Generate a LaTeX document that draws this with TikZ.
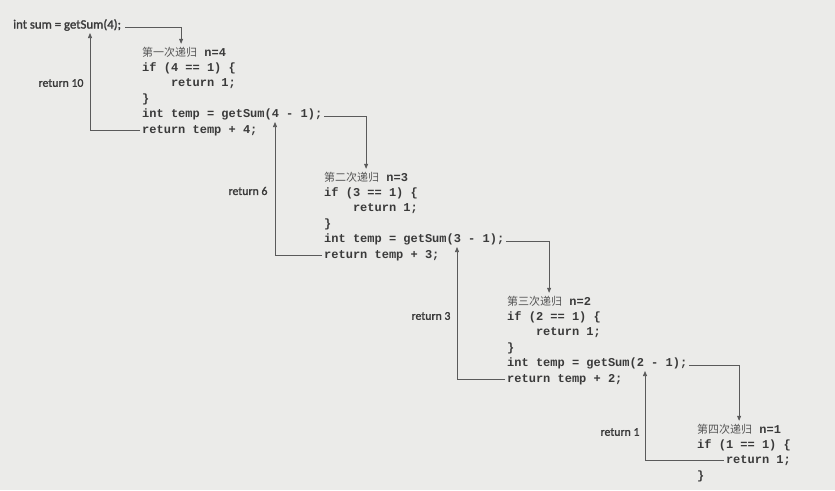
\documentclass[tikz,border=0pt]{standalone}
\usepackage{fontspec}
\usetikzlibrary{arrows.meta,calc}
\setmainfont{Carlito}
\newfontfamily\lblfont{Carlito}[FakeBold=1.6]
\newfontfamily\codefont{Liberation Mono}
\newfontfamily\cjkfont{Noto Sans CJK SC}
\definecolor{paper}{HTML}{EBEBE9}
\definecolor{ink}{HTML}{3A3A3A}
\definecolor{cjkink}{HTML}{555555}
\definecolor{lineink}{HTML}{5A5A5A}
\tikzset{
  code/.style={anchor=west,inner sep=0pt,text height=8pt,text depth=2pt,
    font=\codefont\bfseries\fontsize{12}{14}\selectfont,text=ink},
  lbl/.style={inner sep=0pt,font=\lblfont\fontsize{11.8}{13}\selectfont,text=ink},
  flow/.style={draw=lineink,line width=0.7pt,-{Triangle[length=5pt,width=4pt]}},
}
\newcommand{\cn}[1]{{\cjkfont\mdseries\fontsize{11}{13}\selectfont\color{cjkink}#1}}
\begin{document}
\begin{tikzpicture}[x=1pt,y=-1pt]
\fill[paper] (0,0) rectangle (835,490);
\useasboundingbox (0,0) rectangle (835,490);

% first call
\node[lbl,anchor=west,font=\lblfont\fontsize{12.8}{14}\selectfont] (s) at (13,25) {int sum = getSum(4);};

% block 1
\node[code] (b1t) at (142,53) {\cn{第一次递归} n=4};
\node[code] (b1l1) at (142,68.4) {if (4 == 1) \{};
\node[code] (b1l2) at (170.8,83.8) {return 1;};
\node[code] (b1l3) at (142,99.2) {\}};
\node[code] (b1l4) at (142,114.6) {int temp = getSum(4 - 1);};
\node[code] (b1l5) at (142,130) {return temp + 4;};

% block 2
\node[code] (b2t) at (324,178) {\cn{第二次递归} n=3};
\node[code] (b2l1) at (324,193.4) {if (3 == 1) \{};
\node[code] (b2l2) at (352.8,208.8) {return 1;};
\node[code] (b2l3) at (324,224.2) {\}};
\node[code] (b2l4) at (324,239.6) {int temp = getSum(3 - 1);};
\node[code] (b2l5) at (324,255) {return temp + 3;};

% block 3
\node[code] (b3t) at (507,302) {\cn{第三次递归} n=2};
\node[code] (b3l1) at (507,317.4) {if (2 == 1) \{};
\node[code] (b3l2) at (535.8,332.8) {return 1;};
\node[code] (b3l3) at (507,348.2) {\}};
\node[code] (b3l4) at (507,363.6) {int temp = getSum(2 - 1);};
\node[code] (b3l5) at (507,379) {return temp + 2;};

% block 4
\node[code] (b4t) at (697,430) {\cn{第四次递归} n=1};
\node[code] (b4l1) at (697,445.4) {if (1 == 1) \{};
\node[code] (b4l2) at (725.8,460.8) {return 1;};
\node[code] (b4l3) at (697,476.2) {\}};

% return labels
\node[lbl] (r10) at (61,83) {return 10};
\node[lbl] (r6) at (248,191) {return 6};
\node[lbl] (r3) at (431,316) {return 3};
\node[lbl] (r1) at (620,432) {return 1};

% tips of the return arrows
\coordinate (t1) at (90,33);
\coordinate (t2) at (275,122);
\coordinate (t3) at (457,247);
\coordinate (t4) at (645,371);

% call arrows
\draw[flow] ([xshift=4pt,yshift=-2pt]s.east) -| ([xshift=-3pt,yshift=4pt]b1t.north);
\draw[flow] ([xshift=2pt,yshift=-2pt]b1l4.east) -| ([yshift=4pt]b2t.north);
\draw[flow] ([xshift=2pt,yshift=-2pt]b2l4.east) -| ([yshift=4pt]b3t.north);
\draw[flow] ([xshift=2pt,yshift=-2pt]b3l4.east) -| ([yshift=4pt]b4t.north);

% return arrows
\draw[flow] ([xshift=-2pt]b1l5.west) -| (t1);
\draw[flow] ([xshift=-2pt]b2l5.west) -| (t2);
\draw[flow] ([xshift=-2pt]b3l5.west) -| (t3);
\draw[flow] ([xshift=-2pt]b4l2.west) -| (t4);
\end{tikzpicture}
\end{document}
